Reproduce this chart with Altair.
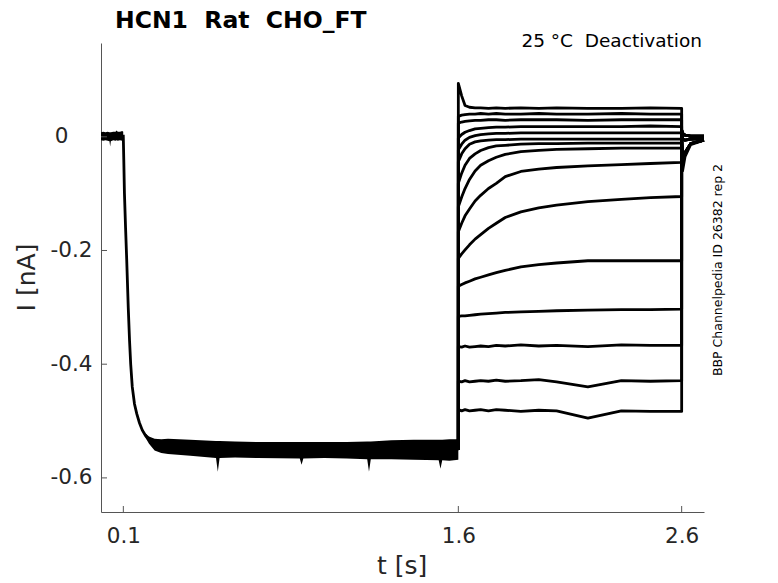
import altair as alt
import pandas as pd

# ---------------- data ----------------
# holding segment (0 .. 0.1 s): noise envelope
ZERO_T = [0.000, 0.010, 0.020, 0.030, 0.038, 0.041, 0.044, 0.055, 0.065, 0.070, 0.075, 0.085, 0.095, 0.0995]
ZERO_HI = [0.008, 0.009, 0.008, 0.009, 0.008, 0.008, 0.008, 0.009, 0.009, 0.011, 0.009, 0.009, 0.010, 0.009]
ZERO_LO = [-0.006, -0.007, -0.006, -0.007, -0.008, -0.017, -0.008, -0.006, -0.007, -0.006, -0.007, -0.006, -0.007, -0.006]

# activation pre-pulse: centre trace
PRE_T = [0.000, 0.050, 0.0998, 0.102, 0.105, 0.110, 0.115, 0.122, 0.128, 0.133, 0.140, 0.150, 0.160,
         0.172, 0.185, 0.200, 0.215, 0.240, 0.300, 0.500, 0.800, 1.100, 1.400, 1.600]
PRE_I = [0.001, 0.001, 0.001, -0.040, -0.100, -0.160, -0.215, -0.300, -0.360, -0.400, -0.440, -0.470, -0.487,
         -0.503, -0.516, -0.526, -0.533, -0.540, -0.545, -0.549, -0.551, -0.551, -0.551, -0.550]

# pre-pulse plateau: noise envelope
PLAT_T = [0.200, 0.215, 0.240, 0.270, 0.300, 0.400, 0.515, 0.523, 0.531, 0.600, 0.700, 0.890, 0.898,
          0.906, 1.000, 1.100, 1.192, 1.200, 1.208, 1.300, 1.400, 1.512, 1.520, 1.528, 1.560, 1.600]
PLAT_HI = [-0.522, -0.527, -0.531, -0.532, -0.531, -0.533, -0.535, -0.535, -0.535, -0.536, -0.537, -0.537, -0.537,
           -0.537, -0.537, -0.537, -0.536, -0.536, -0.536, -0.534, -0.533, -0.533, -0.533, -0.533, -0.532, -0.532]
PLAT_LO = [-0.530, -0.540, -0.552, -0.556, -0.558, -0.561, -0.565, -0.589, -0.565, -0.564, -0.565, -0.566, -0.577,
           -0.566, -0.565, -0.566, -0.567, -0.589, -0.567, -0.567, -0.568, -0.569, -0.584, -0.569, -0.570, -0.568]

PLATEAU_END = -0.550

# deactivation test pulses
TEST_T = [1.600, 1.615, 1.630, 1.650, 1.675, 1.700, 1.735, 1.770, 1.810, 1.880, 1.960, 2.040, 2.180, 2.330, 2.460, 2.600]
TR01 = [0.094, 0.072, 0.055, 0.052, 0.051, 0.051, 0.050, 0.051, 0.050, 0.051, 0.050, 0.051, 0.050, 0.050, 0.051, 0.050]
TR02 = [0.036, 0.038, 0.039, 0.040, 0.040, 0.041, 0.040, 0.041, 0.040, 0.040, 0.041, 0.040, 0.040, 0.041, 0.040, 0.040]
TR03 = [0.024, 0.026, 0.027, 0.028, 0.029, 0.029, 0.030, 0.030, 0.029, 0.030, 0.030, 0.030, 0.029, 0.030, 0.030, 0.030]
TR04 = [-0.002, 0.004, 0.008, 0.011, 0.014, 0.015, 0.016, 0.017, 0.017, 0.018, 0.018, 0.018, 0.018, 0.018, 0.019, 0.018]
TR05 = [-0.023, -0.013, -0.006, -0.001, 0.002, 0.004, 0.005, 0.006, 0.006, 0.007, 0.007, 0.007, 0.007, 0.007, 0.007, 0.007]
TR06 = [-0.044, -0.030, -0.021, -0.013, -0.009, -0.007, -0.006, -0.005, -0.005, -0.004, -0.004, -0.004, -0.004, -0.004, -0.004, -0.004]
TR07 = [-0.082, -0.064, -0.050, -0.038, -0.030, -0.024, -0.019, -0.016, -0.015, -0.013, -0.012, -0.012, -0.011, -0.011, -0.011, -0.011]
TR08 = [-0.123, -0.106, -0.091, -0.075, -0.060, -0.050, -0.042, -0.036, -0.031, -0.026, -0.024, -0.022, -0.021, -0.020, -0.020, -0.020]
TR09 = [-0.167, -0.152, -0.139, -0.127, -0.113, -0.103, -0.091, -0.082, -0.070, -0.061, -0.057, -0.054, -0.051, -0.049, -0.047, -0.045]
TR10 = [-0.214, -0.206, -0.199, -0.190, -0.180, -0.172, -0.161, -0.152, -0.142, -0.132, -0.125, -0.120, -0.114, -0.110, -0.107, -0.105]
TR11 = [-0.263, -0.260, -0.257, -0.254, -0.250, -0.247, -0.243, -0.239, -0.235, -0.229, -0.225, -0.222, -0.218, -0.218, -0.218, -0.218]
TR12 = [-0.316, -0.315, -0.315, -0.314, -0.313, -0.312, -0.311, -0.310, -0.309, -0.308, -0.307, -0.306, -0.305, -0.304, -0.304, -0.303]
TR13 = [-0.369, -0.370, -0.368, -0.370, -0.369, -0.368, -0.369, -0.367, -0.368, -0.366, -0.368, -0.367, -0.369, -0.366, -0.367, -0.367]
TR14 = [-0.430, -0.431, -0.429, -0.431, -0.430, -0.429, -0.430, -0.428, -0.430, -0.429, -0.427, -0.431, -0.440, -0.429, -0.430, -0.429]
TR15 = [-0.480, -0.482, -0.480, -0.482, -0.481, -0.480, -0.482, -0.480, -0.481, -0.483, -0.481, -0.482, -0.495, -0.482, -0.483, -0.483]
TRACES = [TR01, TR02, TR03, TR04, TR05, TR06, TR07, TR08, TR09, TR10, TR11, TR12, TR13, TR14, TR15]

# return to holding after 2.6 s
TAIL_T = [2.600, 2.604, 2.615, 2.640, 2.700]
TAIL_UP = [0.012, 0.006, 0.003, 0.001, 0.001]
TAIL_MID = [0.008, -0.004, -0.006, -0.004, -0.003]
TAIL_LOW = [0.000, -0.040, -0.028, -0.012, -0.006]
TAIL_HOOK = [0.000, -0.060, -0.035, -0.014, -0.006]
TAILS = [TAIL_UP] * 5 + [TAIL_MID] * 4 + [TAIL_LOW] * 5 + [TAIL_HOOK]

X_TICKS = [0.1, 1.6, 2.6]
Y_TICKS = [0, -0.2, -0.4, -0.6]

TITLE = "HCN1\u00a0 Rat\u00a0 CHO_FT"
SUBTITLE = "25 \u00b0C\u00a0 Deactivation"
SIDE = "BBP Channelpedia ID 26382 rep 2"

# ---------------- tables ----------------
zero_df = pd.DataFrame({"t": ZERO_T, "hi": ZERO_HI, "lo": ZERO_LO, "seg": "zero"})
plat_df = pd.DataFrame({"t": PLAT_T, "hi": PLAT_HI, "lo": PLAT_LO, "seg": "plat"})
env_df = pd.concat([zero_df, plat_df], ignore_index=True)

pre_df = pd.DataFrame({"t": PRE_T, "i": PRE_I, "seq": range(len(PRE_T))})

rows = []
for k, (tr, tail) in enumerate(zip(TRACES, TAILS)):
    seq = 0
    rows.append({"trace": k, "seq": seq, "t": TEST_T[0], "i": PLATEAU_END})
    for t, v in zip(TEST_T, tr):
        seq += 1
        rows.append({"trace": k, "seq": seq, "t": t, "i": v})
    for t, v in zip(TAIL_T, tail):
        seq += 1
        rows.append({"trace": k, "seq": seq, "t": t, "i": v})
test_df = pd.DataFrame(rows)

# ---------------- scales / axes ----------------
FONT = "DejaVu Sans"
AX = "#555555"
TXT = "#262626"
W, H = 603, 469

xs = alt.Scale(domain=[0, 2.7], nice=False, zero=False)
ys = alt.Scale(domain=[-0.66, 0.165], nice=False, zero=False)

xaxis = alt.Axis(values=X_TICKS, format=".1f", title="t [s]", ticks=False, tickSize=0, grid=False,
                 domainColor=AX, domainWidth=1, labelFont=FONT, labelFontSize=21.5, labelColor=TXT,
                 labelPadding=13, labelFlush=False,
                 titleFont=FONT, titleFontSize=25, titleFontWeight="normal", titleColor=TXT,
                 titleX=300.7, titleY=41, titleBaseline="top", titleAlign="center")
yaxis = alt.Axis(values=Y_TICKS, labelExpr="datum.value == 0 ? '0' : toString(datum.value)",
                 ticks=False, tickSize=0, grid=False, domainColor=AX, domainWidth=1,
                 labelFont=FONT, labelFontSize=21.5, labelColor=TXT,
                 labelPadding={"condition": {"test": "datum.value == 0", "value": 33}, "value": 9},
                 title="I [nA]", titleFont=FONT, titleFontSize=25, titleFontWeight="normal", titleColor=TXT,
                 titleX=-62, titleY=234, titleAngle=270, titleBaseline="bottom", titleAlign="center")


def X(f):
    return alt.X(f, type="quantitative", scale=xs, axis=xaxis)


def Y(f):
    return alt.Y(f, type="quantitative", scale=ys, axis=yaxis)


env = alt.Chart(env_df).mark_area(color="black", opacity=1, strokeWidth=0).encode(
    x=X("t"), y=Y("hi"), y2="lo", detail="seg:N")

pre = alt.Chart(pre_df).mark_line(color="black", strokeWidth=2.8).encode(
    x=X("t"), y=Y("i"), order="seq:Q")

test = alt.Chart(test_df).mark_line(color="black", strokeWidth=2.8, strokeJoin="round").encode(
    x=X("t"), y=Y("i"), detail="trace:N", order="seq:Q")

xt = alt.Chart(pd.DataFrame({"v": X_TICKS})).mark_rule(color=AX, strokeWidth=1).encode(
    x=X("v"), y=alt.value(H), y2=alt.value(H - 6))
yt = alt.Chart(pd.DataFrame({"v": Y_TICKS})).mark_rule(color=AX, strokeWidth=1).encode(
    y=Y("v"), x=alt.value(0), x2=alt.value(6))

title = alt.Chart(pd.DataFrame({"s": [TITLE]})).mark_text(
    font=FONT, fontSize=23.5, fontWeight="bold", color="black", align="left", baseline="alphabetic"
).encode(x=alt.value(14), y=alt.value(-15), text="s:N")

sub = alt.Chart(pd.DataFrame({"s": [SUBTITLE]})).mark_text(
    font=FONT, fontSize=18.5, color="black", align="right", baseline="alphabetic"
).encode(x=alt.value(601), y=alt.value(4), text="s:N")

side = alt.Chart(pd.DataFrame({"s": [SIDE]})).mark_text(
    font=FONT, fontSize=12.5, color="black", align="center", baseline="alphabetic", angle=270
).encode(x=alt.value(621), y=alt.value(227), text="s:N")

chart = alt.layer(env, pre, test, xt, yt, title, sub, side).properties(
    width=W, height=H,
    background="white",
    autosize=alt.AutoSizeParams(type="none"),
    padding={"left": 93, "top": 35, "right": 58, "bottom": 69},
).configure_view(strokeWidth=0, stroke="transparent")

chart.save("out.html", embed_options={"renderer": "svg", "actions": False})
